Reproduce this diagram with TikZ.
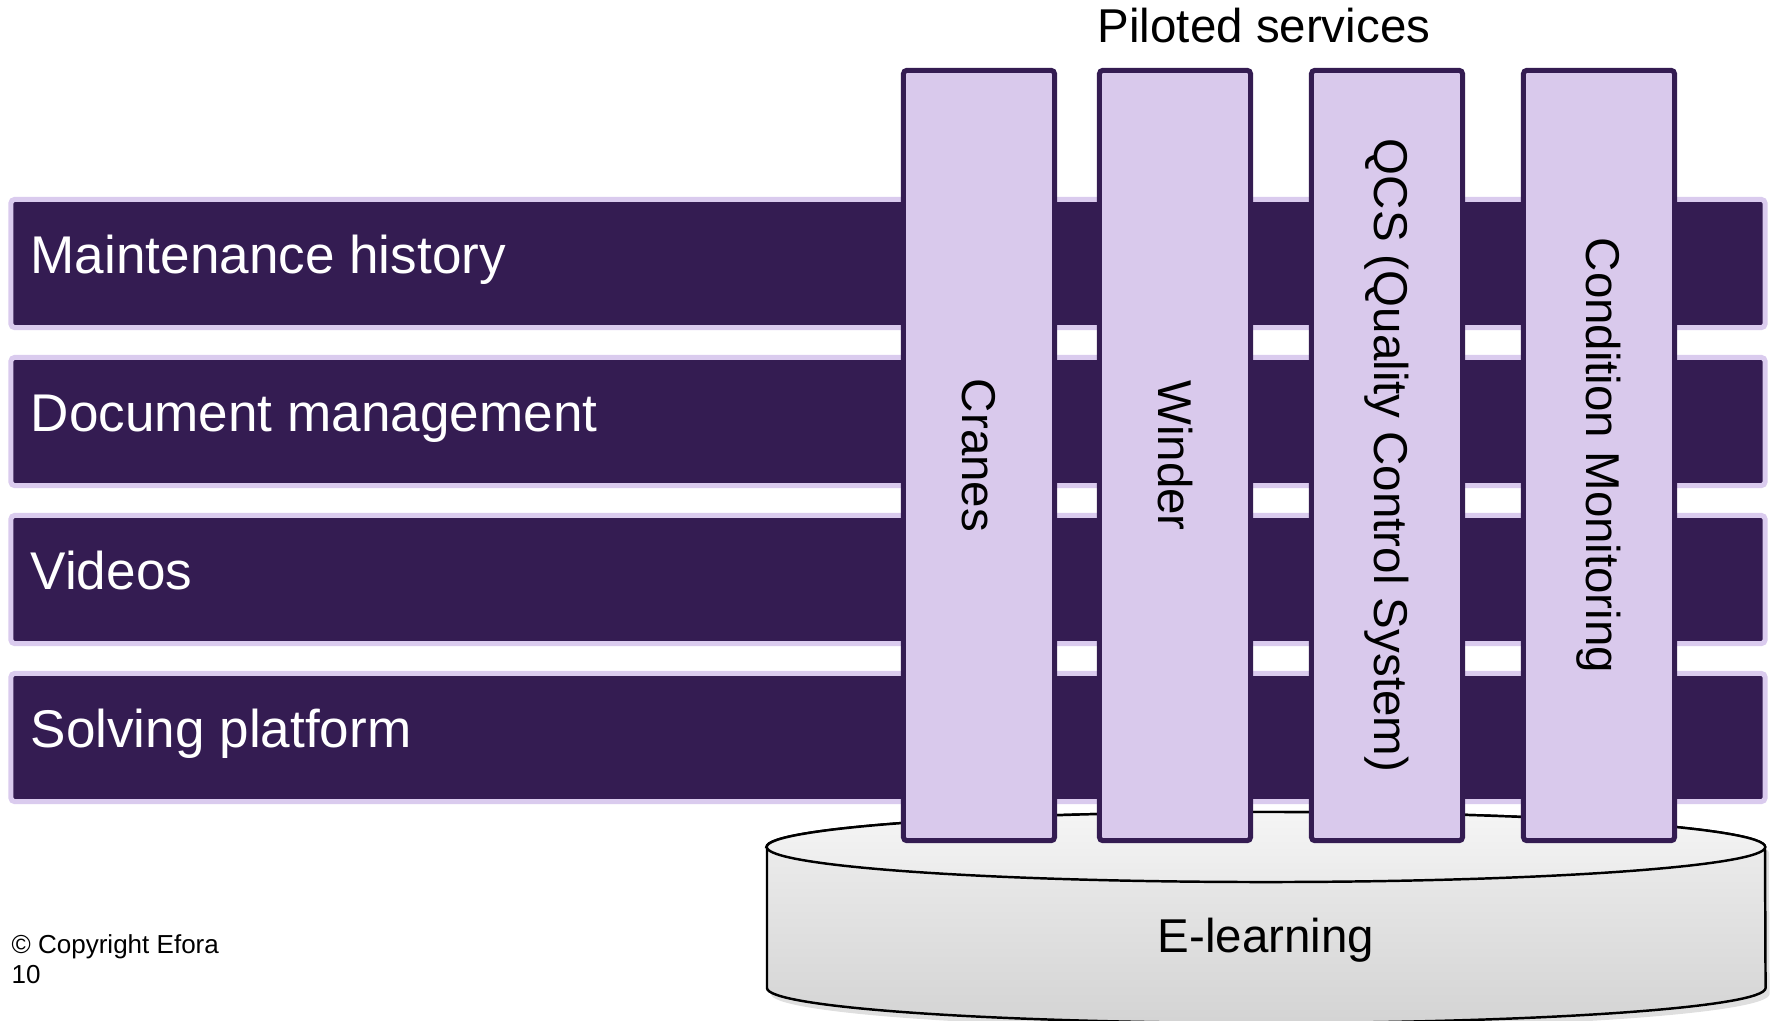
\documentclass[tikz,border=0pt]{standalone}
\usepackage{fontspec}
\setmainfont{Liberation Sans}
\usepackage{tikz}
\usetikzlibrary{shadows}

\definecolor{efdark}{HTML}{341C52}
\definecolor{eflight}{HTML}{D9C9EC}
\definecolor{barrim}{HTML}{DACBEE}

\tikzset{
  layerbar/.style={draw=barrim, fill=efdark, line width=1.42pt, rounded corners=1pt,
    minimum width=17.53cm, minimum height=1.28cm, inner sep=0pt},
  servicecol/.style={draw=efdark, fill=eflight, line width=1.42pt, rounded corners=1pt,
    minimum width=1.51cm, minimum height=7.70cm, inner sep=0pt},
  barlabel/.style={anchor=base west, inner sep=0pt, text=white,
    font=\fontsize{15.1}{18}\selectfont},
  collabel/.style={rotate=-90, inner sep=0pt, font=\fontsize{13.5}{16}\selectfont},
}

\begin{document}
\begin{tikzpicture}[x=0.01cm, y=-0.01cm]

\useasboundingbox (0,0) rectangle (1771,1020);

% Horizontal layers
\node[layerbar] (maint) at (888,263.5) {};
\node[layerbar] (docs)  at (888,421.5) {};
\node[layerbar] (video) at (888,579.5) {};
\node[layerbar] (solve) at (888,737.5) {};

\node[barlabel] (maintlbl) at (30,273) {Maintenance history};
\node[barlabel] (docslbl)  at (30,431) {Document management};
\node[barlabel] (videolbl) at (30,589) {Videos};
\node[barlabel] (solvelbl) at (30,747) {Solving platform};

% E-learning base (cylinder)
\path[drop shadow={opacity=0.25, shadow xshift=0.04cm, shadow yshift=-0.06cm},
      top color=gray!12, bottom color=gray!34, draw=black, line width=0.7pt]
  (767,847) -- (767,988)
  arc[start angle=180, end angle=360, x radius=4.99cm, y radius=0.35cm]
  -- (1765,847)
  arc[start angle=0, end angle=180, x radius=4.99cm, y radius=0.35cm] -- cycle;
\draw[line width=0.7pt, top color=gray!8, bottom color=gray!16]
  (1266,847) ellipse[x radius=4.99cm, y radius=0.35cm];
\node[anchor=base, inner sep=0pt, font=\fontsize{13.5}{16}\selectfont] (elearn) at (1266,952) {E-learning};

% Piloted services
\node[servicecol] (cranes) at (979,455.5) {};
\node[servicecol] (winder) at (1175,455.5) {};
\node[servicecol] (qcs)    at (1387,455.5) {};
\node[servicecol] (condmon) at (1599,455.5) {};

\node[collabel] (craneslbl) at (cranes) {Cranes};
\node[collabel] (winderlbl) at (winder) {Winder};
\node[collabel] (qcslbl)    at (qcs) {QCS (Quality Control System)};
\node[collabel] (condlbl)   at (condmon) {Condition Monitoring};

\node[anchor=base, inner sep=0pt, font=\fontsize{13.5}{16}\selectfont] (piloted) at (1264,42) {Piloted services};

% Footer
\node[anchor=base west, inner sep=0pt, font=\fontsize{7.4}{9}\selectfont] (copy) at (11,953) {© Copyright Efora};
\node[anchor=base west, inner sep=0pt, font=\fontsize{7.4}{9}\selectfont] (pagenum) at (11,983) {10};

\end{tikzpicture}
\end{document}
